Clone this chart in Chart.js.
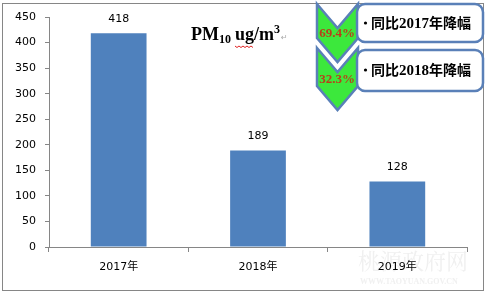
<!DOCTYPE html>
<html>
<head>
<meta charset="utf-8">
<script src="https://cdn.jsdelivr.net/npm/chart.js"></script>
<style>
  body { margin: 0; background: #fff; }
  canvas { display: block; }
</style>
</head>
<body>
<canvas id="myChart" width="487" height="295"></canvas>
<script>
// chart data
const years = ['2017年', '2018年', '2019年'];
const pm10 = [418, 189, 128];
const yMax = 450;
const yStep = 50;

const axisGrey = '#868686';
const barBlue = '#4F81BD';

// drop vs. 2019, worked out from the values above
function drop(from) {
  return ((from - pm10[2]) / from * 100).toFixed(1) + '%';
}

const valueLabels = {
  id: 'valueLabels',
  afterDatasetsDraw(chart) {
    const ctx = chart.ctx;
    const meta = chart.getDatasetMeta(0);
    ctx.save();
    ctx.font = '11px "DejaVu Sans"';
    ctx.fillStyle = '#000';
    ctx.textAlign = 'center';
    ctx.textBaseline = 'middle';
    meta.data.forEach((bar, i) => {
      ctx.fillText(pm10[i], bar.x, bar.y - 14);
    });
    ctx.restore();
  }
};

function chevron(ctx, top, bottom) {
  ctx.beginPath();
  ctx.moveTo(317, top);
  ctx.lineTo(337.5, top + 24);
  ctx.lineTo(358, top);
  ctx.lineTo(358, bottom - 24);
  ctx.lineTo(337.5, bottom);
  ctx.lineTo(317, bottom - 24);
  ctx.closePath();
  ctx.fillStyle = '#3CE83C';
  ctx.fill();
  ctx.lineWidth = 2.5;
  ctx.strokeStyle = '#5A80B8';
  ctx.stroke();
}

function roundBox(ctx, x, y, w, h, r) {
  ctx.beginPath();
  ctx.roundRect(x, y, w, h, r);
  ctx.fillStyle = '#fff';
  ctx.fill();
  ctx.lineWidth = 2.5;
  ctx.strokeStyle = '#5A80B8';
  ctx.stroke();
}

function boxText(ctx, x, y, year) {
  ctx.textBaseline = 'middle';
  ctx.textAlign = 'left';
  ctx.fillStyle = '#000';
  ctx.beginPath();
  ctx.arc(x + 1.5, y, 1.6, 0, Math.PI * 2);
  ctx.fill();
  x += 7;
  ctx.font = 'bold 14px "Noto Sans CJK SC"';
  ctx.fillText('同比', x, y);
  x += ctx.measureText('同比').width;
  ctx.font = 'bold 15px "Liberation Serif"';
  ctx.fillText(year, x, y + 1);
  x += ctx.measureText(year).width;
  ctx.font = 'bold 14px "Noto Sans CJK SC"';
  ctx.fillText('年降幅', x, y);
}

const extras = {
  id: 'extras',
  beforeDraw(chart) {
    const ctx = chart.ctx;
    ctx.save();
    // watermark
    ctx.fillStyle = '#f0f0f0';
    ctx.textAlign = 'left';
    ctx.textBaseline = 'middle';
    ctx.font = '22px "Noto Serif CJK SC", "Noto Sans CJK SC"';
    ctx.fillText('桃源政府网', 358, 261);
    ctx.font = 'bold 8px "Liberation Serif"';
    ctx.fillText('WWW.TAOYUAN.GOV.CN', 360, 282);
    ctx.restore();
  },
  afterDraw(chart) {
    const ctx = chart.ctx;
    ctx.save();
    // outer frame
    ctx.strokeStyle = axisGrey;
    ctx.lineWidth = 1;
    ctx.strokeRect(2.5, 3.5, 481, 287);

    // title PM10 ug/m3
    ctx.fillStyle = '#000';
    ctx.textBaseline = 'alphabetic';
    ctx.textAlign = 'left';
    let x = 191;
    const base = 40;
    ctx.font = 'bold 18px "Liberation Serif"';
    ctx.fillText('PM', x, base);
    x += ctx.measureText('PM').width;
    ctx.font = 'bold 12px "Liberation Serif"';
    ctx.fillText('10', x, base + 3);
    x += ctx.measureText('10').width + 4;
    ctx.font = 'bold 18px "Liberation Serif"';
    const ugStart = x;
    ctx.fillText('ug/m', x, base);
    const ugEnd = ugStart + ctx.measureText('ug').width;
    x += ctx.measureText('ug/m').width;
    ctx.font = 'bold 12px "Liberation Serif"';
    ctx.fillText('3', x, base - 7);
    x += ctx.measureText('3').width;
    ctx.fillStyle = '#aaa';
    ctx.font = '8px "DejaVu Sans"';
    ctx.fillText('↵', x + 1, base);
    // spell-check squiggle
    ctx.strokeStyle = '#e02020';
    ctx.lineWidth = 1;
    ctx.beginPath();
    for (let i = 0; ugStart + i * 2 <= ugEnd; i++) {
      const px = ugStart + i * 2;
      const py = base + 6 + (i % 2 ? 1.5 : 0);
      if (i === 0) ctx.moveTo(px, py); else ctx.lineTo(px, py);
    }
    ctx.stroke();

    // chevrons and boxes
    chevron(ctx, 4, 62);
    chevron(ctx, 48, 110);
    roundBox(ctx, 357, 4, 126, 38, 8);
    roundBox(ctx, 357, 50, 126, 41, 8);

    ctx.textAlign = 'center';
    ctx.textBaseline = 'middle';
    ctx.fillStyle = '#B8401A';
    ctx.font = 'bold 13px "Liberation Serif"';
    ctx.fillText(drop(pm10[0]), 337, 34);
    ctx.fillText(drop(pm10[1]), 337, 80);

    boxText(ctx, 364, 23, '2017');
    boxText(ctx, 364, 70, '2018');
    ctx.restore();
  }
};

new Chart(document.getElementById('myChart'), {
  type: 'bar',
  data: {
    labels: years,
    datasets: [{
      data: pm10,
      backgroundColor: barBlue,
      borderWidth: 0,
      categoryPercentage: 1,
      barPercentage: 0.4
    }]
  },
  options: {
    responsive: false,
    animation: false,
    devicePixelRatio: 1,
    layout: { padding: { top: 17, right: 20, left: 0, bottom: 0 } },
    plugins: {
      legend: { display: false },
      tooltip: { enabled: false }
    },
    scales: {
      x: {
        afterFit: (s) => { s.height = 48; },
        grid: {
          offset: true,
          drawOnChartArea: false,
          drawTicks: true,
          tickLength: 5,
          color: axisGrey
        },
        border: { display: true, color: axisGrey },
        ticks: {
          color: '#000',
          padding: 9,
          font: { family: '"DejaVu Sans", "Noto Sans CJK SC"', size: 11 }
        }
      },
      y: {
        min: 0,
        max: yMax,
        afterFit: (s) => { s.width = 49; },
        grid: {
          drawOnChartArea: false,
          drawTicks: true,
          tickLength: 4,
          color: axisGrey
        },
        border: { display: true, color: axisGrey },
        ticks: {
          stepSize: yStep,
          color: '#000',
          padding: 9,
          font: { family: '"DejaVu Sans"', size: 11 }
        }
      }
    }
  },
  plugins: [valueLabels, extras]
});
</script>
</body>
</html>
